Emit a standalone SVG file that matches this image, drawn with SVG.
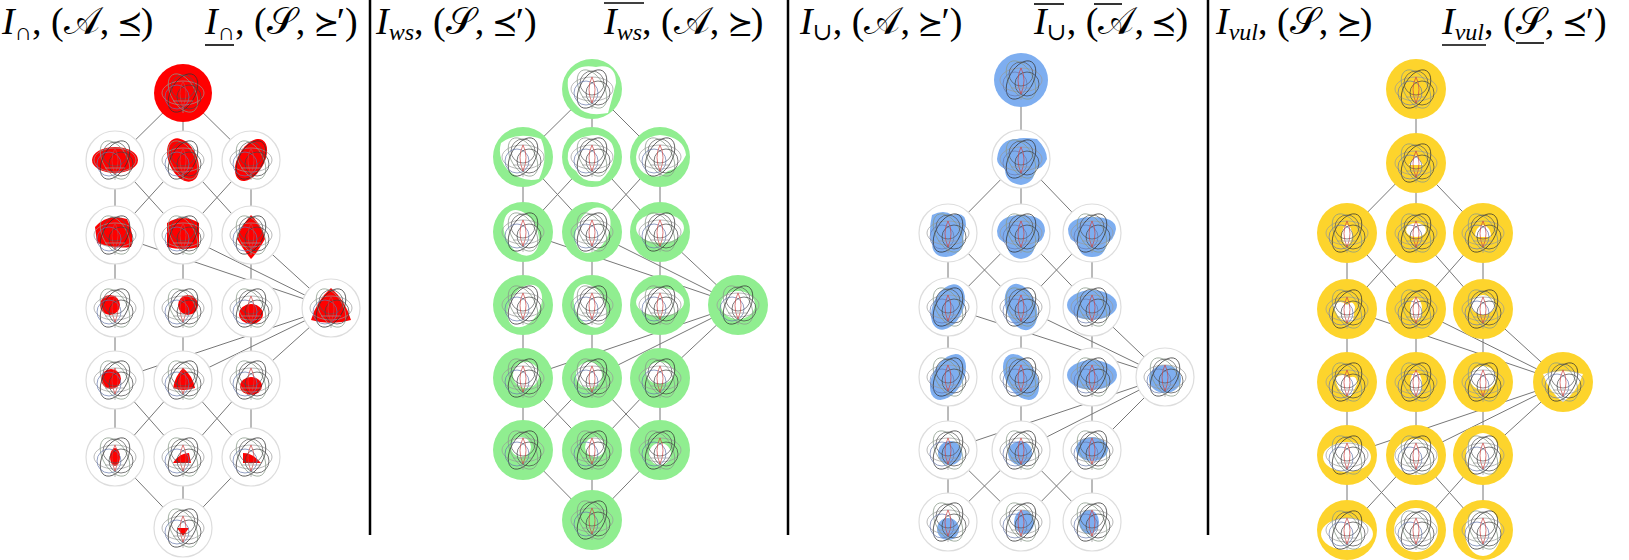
<svg xmlns="http://www.w3.org/2000/svg" xmlns:xlink="http://www.w3.org/1999/xlink" width="1629" height="560" viewBox="0 0 1629 560">
<style>
.t{font-family:"Liberation Serif","DejaVu Serif",serif;font-size:38px;fill:#000}
.i{font-style:italic}
.sb{font-size:24px}
.e{fill:none;stroke:#777;stroke-width:1}
.div{stroke:#000;stroke-width:2.5}
.ring{fill:#fff;stroke:#ddd;stroke-width:1.2}
.r{fill:#f00}.g{fill:#90ee90}.b{fill:#7eaef0}.y{fill:#fdd42c}.w{fill:#fff}
.ln{fill:none;stroke-width:0.7}
.bar{stroke:#000;stroke-width:1.6}
</style>
<defs>
<g id="v">
<ellipse class="ln" stroke="#999" rx="21" ry="12"/>
<ellipse class="ln" stroke="#889988" rx="21" ry="12" transform="rotate(60)"/>
<ellipse class="ln" stroke="#333" rx="21" ry="12" transform="rotate(-60)"/>
<circle class="ln" stroke="#555" cx="0" cy="-6" r="12"/>
<circle class="ln" stroke="#6677aa" cx="-6" cy="4" r="12"/>
<circle class="ln" stroke="#444" cx="6" cy="4" r="12"/>
<path class="ln" stroke="#c44" d="M0,-12 Q-6,0 0,14 Q6,0 0,-12"/>
<path class="ln" stroke="#999" d="M-10,8 H10 M0,14 V20"/>
</g>
</defs>
<g id="titles">
<text class="t" x="2" y="34"><tspan class="i">I</tspan><tspan class="sb" dy="6">∩</tspan><tspan dy="-6">, (𝒜, ⪯)</tspan></text>
<text class="t" x="205" y="34"><tspan class="i">I</tspan><tspan class="sb" dy="6">∩</tspan><tspan dy="-6">, (𝒮, ⪰′)</tspan></text>
<line class="bar" x1="205" y1="45" x2="234" y2="45"/>
<text class="t" x="376" y="34"><tspan class="i">I</tspan><tspan class="i sb" dy="6">ws</tspan><tspan dy="-6">, (𝒮, ⪯′)</tspan></text>
<text class="t" x="604" y="34"><tspan class="i">I</tspan><tspan class="i sb" dy="6">ws</tspan><tspan dy="-6">, (𝒜, ⪰)</tspan></text>
<line class="bar" x1="604" y1="3" x2="644" y2="3"/>
<text class="t" x="800" y="34"><tspan class="i">I</tspan><tspan class="sb" dy="6">∪</tspan><tspan dy="-6">, (𝒜, ⪰′)</tspan></text>
<text class="t" x="1034" y="34"><tspan class="i">I</tspan><tspan class="sb" dy="6">∪</tspan><tspan dy="-6">, (𝒜, ⪯)</tspan></text>
<line class="bar" x1="1034" y1="4" x2="1064" y2="4"/>
<line class="bar" x1="1094" y1="4" x2="1122" y2="4"/>
<text class="t" x="1216" y="34"><tspan class="i">I</tspan><tspan class="i sb" dy="6">vul</tspan><tspan dy="-6">, (𝒮, ⪰)</tspan></text>
<text class="t" x="1442" y="34"><tspan class="i">I</tspan><tspan class="i sb" dy="6">vul</tspan><tspan dy="-6">, (𝒮, ⪯′)</tspan></text>
<line class="bar" x1="1442" y1="45" x2="1486" y2="45"/>
<line class="bar" x1="1516" y1="43" x2="1544" y2="43"/>
</g>
<g id="dividers">
<line class="div" x1="370" y1="0" x2="370" y2="535"/>
<line class="div" x1="788" y1="0" x2="788" y2="535"/>
<line class="div" x1="1208" y1="0" x2="1208" y2="535"/>
</g>
<g id="connectors">
<path class="e" d="M183,93L115,160M183,93L183,160M183,93L251,160
M115,160L115,235M115,160L183,235M183,160L115,235M183,160L251,235M251,160L183,235M251,160L251,235
M115,235L115,308M183,235L183,308M251,235L251,308
M115,235L331,308M183,235L331,308M251,235L331,308
M115,308L115,380M183,308L183,380M251,308L251,380
M115,380L331,308M183,380L331,308M251,380L331,308
M115,380L115,457M115,380L183,457M183,380L115,457M183,380L251,457M251,380L183,457M251,380L251,457
M115,457L183,528M183,457L183,528M251,457L183,528"/>
<path class="e" d="M592,89L523,157M592,89L592,157M592,89L660,157
M523,157L523,232M523,157L592,232M592,157L523,232M592,157L660,232M660,157L592,232M660,157L660,232
M523,232L523,305M592,232L592,305M660,232L660,305
M523,232L738,305M592,232L738,305M660,232L738,305
M523,305L523,378M592,305L592,378M660,305L660,378
M523,378L738,305M592,378L738,305M660,378L738,305
M523,378L523,450M523,378L592,450M592,378L523,450M592,378L660,450M660,378L592,450M660,378L660,450
M523,450L592,520M592,450L592,520M660,450L592,520"/>
<path class="e" d="M1021,80L1021,159
M1021,159L948,233M1021,159L1021,233M1021,159L1092,233
M948,233L948,307M948,233L1021,307M1021,233L948,307M1021,233L1092,307M1092,233L1021,307M1092,233L1092,307
M948,307L948,377M1021,307L1021,377M1092,307L1092,377
M948,307L1165,377M1021,307L1165,377M1092,307L1165,377
M948,377L948,450M1021,377L1021,450M1092,377L1092,450
M948,450L1165,377M1021,450L1165,377M1092,450L1165,377
M948,450L948,522M948,450L1021,522M1021,450L948,522M1021,450L1092,522M1092,450L1021,522M1092,450L1092,522"/>
<path class="e" d="M1416,89L1416,163
M1416,163L1347,233M1416,163L1416,233M1416,163L1483,233
M1347,233L1347,309M1347,233L1416,309M1416,233L1347,309M1416,233L1483,309M1483,233L1416,309M1483,233L1483,309
M1347,309L1347,382M1416,309L1416,382M1483,309L1483,382
M1347,309L1563,382M1416,309L1563,382M1483,309L1563,382
M1347,382L1347,455M1416,382L1416,455M1483,382L1483,455
M1347,455L1563,382M1416,455L1563,382M1483,455L1563,382
M1347,455L1347,530M1347,455L1416,530M1416,455L1347,530M1416,455L1483,530M1483,455L1416,530M1483,455L1483,530"/>
</g>
<g id="p1-top" transform="translate(183,93)"><circle class="r" r="29"/><use xlink:href="#v"/></g>
<g id="p1-2a" transform="translate(115,160)"><circle class="ring" r="29"/><ellipse class="r" rx="23" ry="13"/><use xlink:href="#v"/></g>
<g id="p1-2b" transform="translate(183,160)"><circle class="ring" r="29"/><ellipse class="r" rx="14" ry="23" transform="rotate(-25)"/><use xlink:href="#v"/></g>
<g id="p1-2c" transform="translate(251,160)"><circle class="ring" r="29"/><ellipse class="r" rx="13" ry="23" transform="rotate(30)"/><use xlink:href="#v"/></g>
<g id="p1-3a" transform="translate(115,235)"><circle class="ring" r="29"/><path class="r" d="M-20,-8 Q-8,-22 12,-16 Q20,0 16,12 Q0,14 -18,8Z"/><use xlink:href="#v"/></g>
<g id="p1-3b" transform="translate(183,235)"><circle class="ring" r="29"/><path class="r" d="M-16,-12 Q0,-22 16,-12 L16,12 Q0,16 -16,12Z"/><use xlink:href="#v"/></g>
<g id="p1-3c" transform="translate(251,235)"><circle class="ring" r="29"/><path class="r" d="M0,-20 Q14,-6 14,4 Q6,18 0,24 Q-8,14 -14,4 Q-12,-6 0,-20Z"/><use xlink:href="#v"/></g>
<g id="p1-4a" transform="translate(115,308)"><circle class="ring" r="29"/><circle class="r" cx="-5" cy="-3" r="10"/><use xlink:href="#v"/></g>
<g id="p1-4b" transform="translate(183,308)"><circle class="ring" r="29"/><circle class="r" cx="5" cy="-3" r="10"/><use xlink:href="#v"/></g>
<g id="p1-4c" transform="translate(251,308)"><circle class="ring" r="29"/><ellipse class="r" cx="0" cy="6" rx="12" ry="10"/><use xlink:href="#v"/></g>
<g id="p1-side" transform="translate(331,308)"><circle class="ring" r="29"/><path class="r" d="M0,-20 Q14,-8 20,12 Q0,18 -20,12 Q-14,-8 0,-20Z"/><use xlink:href="#v"/></g>
<g id="p1-5a" transform="translate(115,380)"><circle class="ring" r="29"/><circle class="r" cx="-4" cy="-1" r="10"/><use xlink:href="#v"/></g>
<g id="p1-5b" transform="translate(183,380)"><circle class="ring" r="29"/><path class="r" d="M0,-12 Q10,-4 12,8 Q0,12 -10,8 Q-8,-4 0,-12Z"/><use xlink:href="#v"/></g>
<g id="p1-5c" transform="translate(251,380)"><circle class="ring" r="29"/><ellipse class="r" cx="0" cy="6" rx="11" ry="9"/><use xlink:href="#v"/></g>
<g id="p1-6a" transform="translate(115,457)"><circle class="ring" r="29"/><ellipse class="r" cx="0" cy="0" rx="5" ry="9"/><use xlink:href="#v"/></g>
<g id="p1-6b" transform="translate(183,457)"><circle class="ring" r="29"/><path class="r" d="M-10,6 Q-4,-4 6,-4 L8,6Z"/><use xlink:href="#v"/></g>
<g id="p1-6c" transform="translate(251,457)"><circle class="ring" r="29"/><path class="r" d="M-8,-4 Q2,-4 10,6 L-8,6Z"/><use xlink:href="#v"/></g>
<g id="p1-bot" transform="translate(183,528)"><circle class="ring" r="29"/><path class="r" d="M-6,0 L6,0 L0,8Z"/><use xlink:href="#v"/></g>
<g id="p2-top" transform="translate(592,89)"><circle class="g" r="30"/><path class="w" d="M-24,-10 Q-16,-26 4,-22 Q24,-26 24,-6 Q20,10 16,24 Q-6,28 -14,18 Q-26,6 -24,-10Z"/><use xlink:href="#v"/></g>
<g id="p2-2a" transform="translate(523,157)"><circle class="g" r="30"/><path class="w" d="M-22,-14 Q-6,-26 18,-18 Q26,0 16,22 Q-2,26 -16,12 Q-26,0 -22,-14Z"/><use xlink:href="#v"/></g>
<g id="p2-2b" transform="translate(592,157)"><circle class="g" r="30"/><path class="w" d="M-24,-4 Q-20,-22 6,-22 Q24,-18 22,0 Q20,14 8,24 Q-10,26 -16,14 Q-26,8 -24,-4Z"/><use xlink:href="#v"/></g>
<g id="p2-2c" transform="translate(660,157)"><circle class="g" r="30"/><path class="w" d="M-24,0 Q-22,-20 0,-22 Q24,-20 26,-2 Q20,12 8,14 Q-2,24 -16,16 Q-24,10 -24,0Z"/><use xlink:href="#v"/></g>
<g id="p2-3a" transform="translate(523,232)"><circle class="g" r="30"/><ellipse class="w" cx="-2" cy="0" rx="16" ry="24" transform="rotate(-25)"/><use xlink:href="#v"/></g>
<g id="p2-3b" transform="translate(592,232)"><circle class="g" r="30"/><ellipse class="w" cx="0" cy="-2" rx="16" ry="24" transform="rotate(25)"/><use xlink:href="#v"/></g>
<g id="p2-3c" transform="translate(660,232)"><circle class="g" r="30"/><ellipse class="w" cx="0" cy="-4" rx="24" ry="15"/><use xlink:href="#v"/></g>
<g id="p2-4a" transform="translate(523,305)"><circle class="g" r="30"/><ellipse class="w" cx="2" cy="0" rx="15" ry="23" transform="rotate(30)"/><use xlink:href="#v"/></g>
<g id="p2-4b" transform="translate(592,305)"><circle class="g" r="30"/><ellipse class="w" cx="-2" cy="0" rx="15" ry="23" transform="rotate(-25)"/><use xlink:href="#v"/></g>
<g id="p2-4c" transform="translate(660,305)"><circle class="g" r="30"/><ellipse class="w" cx="0" cy="-3" rx="24" ry="14"/><use xlink:href="#v"/></g>
<g id="p2-side" transform="translate(738,305)"><circle class="g" r="30"/><ellipse class="w" cx="0" cy="0" rx="17" ry="14"/><use xlink:href="#v"/></g>
<g id="p2-5a" transform="translate(523,378)"><circle class="g" r="30"/><circle class="w" cx="3" cy="-3" r="13"/><use xlink:href="#v"/></g>
<g id="p2-5b" transform="translate(592,378)"><circle class="g" r="30"/><circle class="w" cx="-3" cy="-3" r="13"/><use xlink:href="#v"/></g>
<g id="p2-5c" transform="translate(660,378)"><circle class="g" r="30"/><ellipse class="w" cx="0" cy="-5" rx="14" ry="11"/><use xlink:href="#v"/></g>
<g id="p2-6a" transform="translate(523,450)"><circle class="g" r="30"/><circle class="w" cx="-2" cy="-3" r="10"/><use xlink:href="#v"/></g>
<g id="p2-6b" transform="translate(592,450)"><circle class="g" r="30"/><circle class="w" cx="3" cy="-3" r="10"/><use xlink:href="#v"/></g>
<g id="p2-6c" transform="translate(660,450)"><circle class="g" r="30"/><circle class="w" cx="0" cy="4" r="11"/><use xlink:href="#v"/></g>
<g id="p2-bot" transform="translate(592,520)"><circle class="g" r="30"/><use xlink:href="#v"/></g>
<g id="p3-top" transform="translate(1021,80)"><circle class="b" r="27"/><use xlink:href="#v"/></g>
<g id="p3-2" transform="translate(1021,159)"><circle class="ring" r="29"/><path class="b" d="M-24,0 Q-22,-20 -4,-20 Q0,-22 16,-20 Q26,-10 26,0 Q22,10 14,10 Q14,24 0,26 Q-16,24 -16,10 Q-24,6 -24,0Z"/><use xlink:href="#v"/></g>
<g id="p3-3a" transform="translate(948,233)"><circle class="ring" r="29"/><path class="b" d="M-16,-18 Q-4,-24 4,-18 Q18,-22 18,-8 Q14,6 16,10 Q10,24 -2,24 Q-16,24 -16,10 Q-20,0 -16,-18Z"/><use xlink:href="#v"/></g>
<g id="p3-3b" transform="translate(1021,233)"><circle class="ring" r="29"/><path class="b" d="M-24,-2 Q-22,-18 0,-18 Q24,-18 24,-2 Q22,10 14,10 Q14,24 0,26 Q-14,24 -14,10 Q-24,8 -24,-2Z"/><use xlink:href="#v"/></g>
<g id="p3-3c" transform="translate(1092,233)"><circle class="ring" r="29"/><path class="b" d="M-24,-4 Q-22,-16 0,-16 Q24,-16 24,-4 Q22,8 14,10 Q14,24 0,24 Q-14,24 -14,10 Q-24,8 -24,-4Z"/><use xlink:href="#v"/></g>
<g id="p3-4a" transform="translate(948,307)"><circle class="ring" r="29"/><ellipse class="b" cx="0" cy="0" rx="15" ry="24" transform="rotate(25)"/><use xlink:href="#v"/></g>
<g id="p3-4b" transform="translate(1021,307)"><circle class="ring" r="29"/><ellipse class="b" cx="0" cy="0" rx="15" ry="24" transform="rotate(-20)"/><use xlink:href="#v"/></g>
<g id="p3-4c" transform="translate(1092,307)"><circle class="ring" r="29"/><ellipse class="b" cx="0" cy="-2" rx="25" ry="15"/><use xlink:href="#v"/></g>
<g id="p3-5a" transform="translate(948,377)"><circle class="ring" r="29"/><ellipse class="b" cx="0" cy="0" rx="15" ry="25" transform="rotate(30)"/><use xlink:href="#v"/></g>
<g id="p3-5b" transform="translate(1021,377)"><circle class="ring" r="29"/><ellipse class="b" cx="0" cy="0" rx="15" ry="25" transform="rotate(-30)"/><use xlink:href="#v"/></g>
<g id="p3-5c" transform="translate(1092,377)"><circle class="ring" r="29"/><ellipse class="b" cx="0" cy="-2" rx="25" ry="15"/><use xlink:href="#v"/></g>
<g id="p3-side" transform="translate(1165,377)"><circle class="ring" r="29"/><ellipse class="b" cx="0" cy="2" rx="16" ry="14"/><use xlink:href="#v"/></g>
<g id="p3-6a" transform="translate(948,450)"><circle class="ring" r="29"/><circle class="b" cx="2" cy="3" r="12"/><use xlink:href="#v"/></g>
<g id="p3-6b" transform="translate(1021,450)"><circle class="ring" r="29"/><circle class="b" cx="-1" cy="3" r="12"/><use xlink:href="#v"/></g>
<g id="p3-6c" transform="translate(1092,450)"><circle class="ring" r="29"/><ellipse class="b" cx="0" cy="-1" rx="16" ry="12"/><use xlink:href="#v"/></g>
<g id="p3-7a" transform="translate(948,522)"><circle class="ring" r="29"/><circle class="b" cx="0" cy="7" r="11"/><use xlink:href="#v"/></g>
<g id="p3-7b" transform="translate(1021,522)"><circle class="ring" r="29"/><ellipse class="b" cx="3" cy="0" rx="10" ry="12"/><use xlink:href="#v"/></g>
<g id="p3-7c" transform="translate(1092,522)"><circle class="ring" r="29"/><ellipse class="b" cx="-3" cy="0" rx="10" ry="12"/><use xlink:href="#v"/></g>
<g id="p4-top" transform="translate(1416,89)"><circle class="y" r="30"/><use xlink:href="#v"/></g>
<g id="p4-2" transform="translate(1416,163)"><circle class="y" r="30"/><path class="w" d="M0,-8 L7,2 L-7,2Z"/><use xlink:href="#v"/></g>
<g id="p4-3a" transform="translate(1347,233)"><circle class="y" r="30"/><ellipse class="w" cx="0" cy="2" rx="5" ry="10"/><use xlink:href="#v"/></g>
<g id="p4-3b" transform="translate(1416,233)"><circle class="y" r="30"/><ellipse class="w" cx="0" cy="-3" rx="10" ry="7"/><use xlink:href="#v"/></g>
<g id="p4-3c" transform="translate(1483,233)"><circle class="y" r="30"/><path class="w" d="M0,-8 Q8,-6 8,4 L-8,4 Q-8,-6 0,-8Z"/><use xlink:href="#v"/></g>
<g id="p4-4a" transform="translate(1347,309)"><circle class="y" r="30"/><path class="w" d="M-14,-4 Q-6,-10 0,-4 Q6,-10 8,-2 L6,12 Q-8,16 -14,-4Z"/><use xlink:href="#v"/></g>
<g id="p4-4b" transform="translate(1416,309)"><circle class="y" r="30"/><ellipse class="w" cx="0" cy="0" rx="6" ry="11"/><use xlink:href="#v"/></g>
<g id="p4-4c" transform="translate(1483,309)"><circle class="y" r="30"/><ellipse class="w" cx="0" cy="-4" rx="12" ry="10"/><use xlink:href="#v"/></g>
<g id="p4-5a" transform="translate(1347,382)"><circle class="y" r="30"/><path class="w" d="M-12,-4 Q-4,-10 2,-4 Q10,-8 10,2 L4,14 Q-8,14 -12,-4Z"/><use xlink:href="#v"/></g>
<g id="p4-5b" transform="translate(1416,382)"><circle class="y" r="30"/><ellipse class="w" cx="0" cy="2" rx="6" ry="12"/><use xlink:href="#v"/></g>
<g id="p4-5c" transform="translate(1483,382)"><circle class="y" r="30"/><ellipse class="w" cx="0" cy="-4" rx="13" ry="12"/><use xlink:href="#v"/></g>
<g id="p4-side" transform="translate(1563,382)"><circle class="y" r="30"/><path class="w" d="M-20,-8 Q0,-14 20,-8 Q14,10 0,20 Q-14,10 -20,-8Z"/><use xlink:href="#v"/></g>
<g id="p4-6a" transform="translate(1347,455)"><circle class="y" r="30"/><ellipse class="w" cx="0" cy="2" rx="24" ry="15"/><use xlink:href="#v"/></g>
<g id="p4-6b" transform="translate(1416,455)"><circle class="y" r="30"/><ellipse class="w" cx="0" cy="2" rx="22" ry="18"/><use xlink:href="#v"/></g>
<g id="p4-6c" transform="translate(1483,455)"><circle class="y" r="30"/><ellipse class="w" cx="0" cy="0" rx="17" ry="22"/><use xlink:href="#v"/></g>
<g id="p4-7a" transform="translate(1347,530)"><circle class="y" r="30"/><ellipse class="w" cx="0" cy="4" rx="26" ry="16"/><use xlink:href="#v"/></g>
<g id="p4-7b" transform="translate(1416,530)"><circle class="y" r="30"/><ellipse class="w" cx="0" cy="0" rx="22" ry="22" transform="rotate(20)"/><use xlink:href="#v"/></g>
<g id="p4-7c" transform="translate(1483,530)"><circle class="y" r="30"/><ellipse class="w" cx="0" cy="2" rx="18" ry="24"/><use xlink:href="#v"/></g>
</svg>
